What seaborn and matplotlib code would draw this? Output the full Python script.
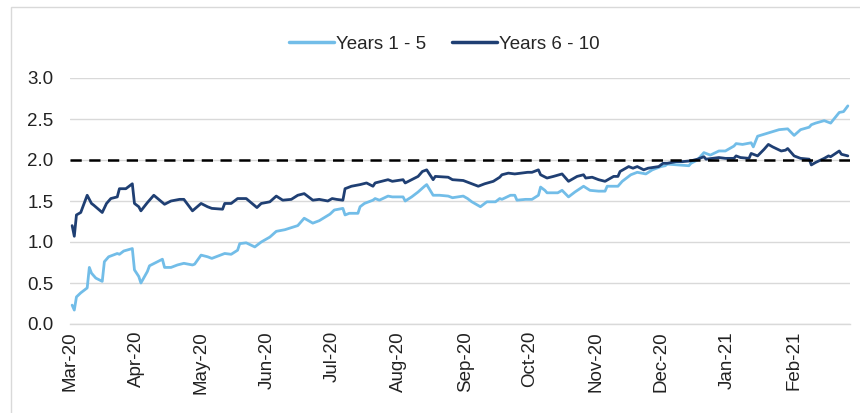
import matplotlib
matplotlib.use("Agg")
import matplotlib.pyplot as plt
import matplotlib.dates as mdates
from matplotlib.patches import Rectangle
import seaborn as sns
import pandas as pd

# ---- data ----
short_dates = ["2020-03-02", "2020-03-03", "2020-03-04", "2020-03-06", "2020-03-09", "2020-03-10",
               "2020-03-11", "2020-03-13", "2020-03-16", "2020-03-17", "2020-03-19", "2020-03-23",
               "2020-03-24", "2020-03-26", "2020-03-30", "2020-03-31", "2020-04-02", "2020-04-03",
               "2020-04-06", "2020-04-07", "2020-04-13", "2020-04-14", "2020-04-17", "2020-04-20",
               "2020-04-23", "2020-04-27", "2020-04-28", "2020-05-01", "2020-05-04", "2020-05-06",
               "2020-05-08", "2020-05-12", "2020-05-15", "2020-05-18", "2020-05-19", "2020-05-22",
               "2020-05-26", "2020-05-29", "2020-06-02", "2020-06-05", "2020-06-09", "2020-06-15",
               "2020-06-18", "2020-06-22", "2020-06-25", "2020-06-30", "2020-07-02", "2020-07-06",
               "2020-07-07", "2020-07-09", "2020-07-13", "2020-07-14", "2020-07-16", "2020-07-20",
               "2020-07-21", "2020-07-23", "2020-07-27", "2020-07-29", "2020-08-03", "2020-08-04",
               "2020-08-07", "2020-08-10", "2020-08-13", "2020-08-14", "2020-08-17", "2020-08-20",
               "2020-08-24", "2020-08-26", "2020-08-31", "2020-09-02", "2020-09-04", "2020-09-08",
               "2020-09-09", "2020-09-11", "2020-09-15", "2020-09-17", "2020-09-18", "2020-09-22",
               "2020-09-24", "2020-09-25", "2020-09-29", "2020-10-02", "2020-10-05", "2020-10-06",
               "2020-10-08", "2020-10-09", "2020-10-14", "2020-10-16", "2020-10-19", "2020-10-22",
               "2020-10-26", "2020-10-29", "2020-11-02", "2020-11-05", "2020-11-06", "2020-11-11",
               "2020-11-13", "2020-11-17", "2020-11-20", "2020-11-24", "2020-11-27", "2020-12-01",
               "2020-12-03", "2020-12-04", "2020-12-09", "2020-12-14", "2020-12-15", "2020-12-18",
               "2020-12-21", "2020-12-24", "2020-12-28", "2020-12-31", "2021-01-04", "2021-01-05",
               "2021-01-08", "2021-01-12", "2021-01-13", "2021-01-15", "2021-01-20", "2021-01-25",
               "2021-01-29", "2021-02-01", "2021-02-04", "2021-02-08", "2021-02-09", "2021-02-11",
               "2021-02-15", "2021-02-17", "2021-02-18", "2021-02-22", "2021-02-24", "2021-02-26"]
years_1_5 = [0.23, 0.17, 0.33, 0.38, 0.44, 0.69,
             0.62, 0.56, 0.52, 0.76, 0.82, 0.86,
             0.85, 0.89, 0.92, 0.66, 0.58, 0.50,
             0.64, 0.71, 0.79, 0.69, 0.69, 0.72,
             0.74, 0.72, 0.73, 0.84, 0.82, 0.80,
             0.82, 0.86, 0.85, 0.90, 0.98, 0.99,
             0.94, 1.00, 1.06, 1.13, 1.15, 1.20,
             1.29, 1.23, 1.26, 1.34, 1.39, 1.41,
             1.33, 1.35, 1.35, 1.43, 1.47, 1.51,
             1.53, 1.51, 1.56, 1.55, 1.55, 1.50,
             1.55, 1.61, 1.68, 1.70, 1.57, 1.57,
             1.56, 1.54, 1.56, 1.53, 1.49, 1.43,
             1.45, 1.49, 1.49, 1.53, 1.52, 1.57,
             1.57, 1.51, 1.52, 1.52, 1.57, 1.67,
             1.63, 1.60, 1.60, 1.63, 1.55, 1.61,
             1.68, 1.63, 1.62, 1.62, 1.68, 1.68,
             1.74, 1.82, 1.85, 1.83, 1.88, 1.92,
             1.93, 1.95, 1.94, 1.93, 1.96, 2.00,
             2.09, 2.06, 2.11, 2.11, 2.17, 2.20,
             2.19, 2.21, 2.16, 2.29, 2.33, 2.37,
             2.38, 2.30, 2.37, 2.40, 2.43, 2.45,
             2.48, 2.46, 2.45, 2.58, 2.59, 2.66]

long_dates = ["2020-03-02", "2020-03-03", "2020-03-04", "2020-03-06", "2020-03-09", "2020-03-11",
              "2020-03-12", "2020-03-16", "2020-03-18", "2020-03-20", "2020-03-23", "2020-03-24",
              "2020-03-27", "2020-03-30", "2020-03-31", "2020-04-02", "2020-04-03", "2020-04-06",
              "2020-04-09", "2020-04-14", "2020-04-17", "2020-04-21", "2020-04-23", "2020-04-27",
              "2020-05-01", "2020-05-04", "2020-05-06", "2020-05-11", "2020-05-12", "2020-05-15",
              "2020-05-18", "2020-05-22", "2020-05-27", "2020-05-29", "2020-06-02", "2020-06-05",
              "2020-06-08", "2020-06-12", "2020-06-15", "2020-06-18", "2020-06-22", "2020-06-25",
              "2020-06-29", "2020-07-01", "2020-07-03", "2020-07-06", "2020-07-07", "2020-07-10",
              "2020-07-14", "2020-07-17", "2020-07-20", "2020-07-21", "2020-07-24", "2020-07-27",
              "2020-07-29", "2020-08-03", "2020-08-04", "2020-08-07", "2020-08-10", "2020-08-12",
              "2020-08-14", "2020-08-17", "2020-08-18", "2020-08-24", "2020-08-26", "2020-08-31",
              "2020-09-03", "2020-09-07", "2020-09-10", "2020-09-14", "2020-09-17", "2020-09-18",
              "2020-09-21", "2020-09-24", "2020-09-30", "2020-10-02", "2020-10-05", "2020-10-06",
              "2020-10-09", "2020-10-12", "2020-10-16", "2020-10-19", "2020-10-23", "2020-10-26",
              "2020-10-27", "2020-10-30", "2020-11-02", "2020-11-05", "2020-11-09", "2020-11-11",
              "2020-11-12", "2020-11-16", "2020-11-18", "2020-11-20", "2020-11-23", "2020-11-25",
              "2020-11-30", "2020-12-02", "2020-12-04", "2020-12-08", "2020-12-11", "2020-12-15",
              "2020-12-18", "2020-12-21", "2020-12-22", "2020-12-28", "2020-12-31", "2021-01-04",
              "2021-01-05", "2021-01-07", "2021-01-11", "2021-01-12", "2021-01-15", "2021-01-18",
              "2021-01-20", "2021-01-22", "2021-01-26", "2021-01-28", "2021-01-29", "2021-02-01",
              "2021-02-04", "2021-02-08", "2021-02-09", "2021-02-11", "2021-02-15", "2021-02-17",
              "2021-02-18", "2021-02-22", "2021-02-23", "2021-02-26"]
years_6_10 = [1.20, 1.07, 1.33, 1.36, 1.57, 1.47,
              1.45, 1.36, 1.47, 1.53, 1.55, 1.65,
              1.65, 1.71, 1.47, 1.43, 1.38, 1.48,
              1.57, 1.46, 1.50, 1.52, 1.52, 1.38,
              1.47, 1.43, 1.41, 1.40, 1.47, 1.47,
              1.53, 1.53, 1.42, 1.47, 1.49, 1.56,
              1.51, 1.52, 1.57, 1.59, 1.51, 1.52,
              1.50, 1.53, 1.52, 1.51, 1.65, 1.68,
              1.70, 1.72, 1.68, 1.72, 1.74, 1.76,
              1.74, 1.76, 1.72, 1.76, 1.80, 1.86,
              1.88, 1.76, 1.80, 1.79, 1.76, 1.75,
              1.72, 1.68, 1.71, 1.74, 1.79, 1.82,
              1.84, 1.83, 1.85, 1.85, 1.88, 1.82,
              1.78, 1.80, 1.83, 1.74, 1.80, 1.82,
              1.78, 1.79, 1.76, 1.74, 1.80, 1.80,
              1.86, 1.92, 1.90, 1.92, 1.88, 1.90,
              1.92, 1.96, 1.96, 1.98, 1.98, 1.99,
              2.01, 2.04, 2.01, 2.03, 2.02, 2.02,
              2.05, 2.03, 2.02, 2.08, 2.05, 2.13,
              2.19, 2.16, 2.11, 2.12, 2.14, 2.05,
              2.02, 2.01, 1.94, 1.97, 2.02, 2.05,
              2.04, 2.11, 2.07, 2.05]

target_level = 2.0
series_names = ["Years 1 - 5", "Years 6 - 10"]
y_ticks = [0.0, 0.5, 1.0, 1.5, 2.0, 2.5, 3.0]

df = pd.concat([
    pd.DataFrame({"date": pd.to_datetime(short_dates), "value": years_1_5, "series": series_names[0]}),
    pd.DataFrame({"date": pd.to_datetime(long_dates), "value": years_6_10, "series": series_names[1]}),
], ignore_index=True)

# ---- style ----
sns.set_theme(style="white")
plt.rcParams["font.family"] = ["Liberation Sans", "DejaVu Sans"]

fig = plt.figure(figsize=(8.6, 4.13), dpi=100)
ax = fig.add_axes([70 / 860, 1 - 324 / 413, 780 / 860, 246 / 413])

palette = {series_names[0]: "#72BDE8", series_names[1]: "#1F3F73"}
sns.lineplot(data=df, x="date", y="value", hue="series", palette=palette,
             linewidth=2.0, ax=ax, legend=True)

ax.axhline(target_level, color="black", linestyle=(0, (4.5, 3)), linewidth=1.8, zorder=3)

ax.set_ylim(0, 3.0)
ax.set_yticks(y_ticks)
ax.set_yticklabels([f"{t:.1f}" for t in y_ticks], fontsize=13.5, color="#222222")
ax.set_xlim(pd.Timestamp("2020-03-01"), pd.Timestamp("2021-02-27"))
ax.xaxis.set_major_locator(mdates.MonthLocator())
ax.xaxis.set_major_formatter(mdates.DateFormatter("%b-%y"))
for lab in ax.get_xticklabels():
    lab.set_rotation(90)
    lab.set_fontsize(13.5)
    lab.set_color("#222222")
ax.tick_params(axis="x", pad=5, length=0)
ax.tick_params(axis="y", pad=12, length=0)
ax.set_xlabel("")
ax.set_ylabel("")

ax.grid(axis="y", color="#D9D9D9", linewidth=1.0)
ax.set_axisbelow(True)
for side in ["top", "right", "left"]:
    ax.spines[side].set_visible(False)
ax.spines["bottom"].set_color("#D9D9D9")
ax.spines["bottom"].set_linewidth(1.0)

leg = ax.legend(loc="upper center", bbox_to_anchor=(0.48, 1.24), ncol=2, frameon=False,
                fontsize=13.5, handlelength=2.4, handletextpad=0.1, columnspacing=1.4)
for line in leg.get_lines():
    line.set_linewidth(2.5)

fig.patches.append(Rectangle((11 / 860, -0.02), 1.0, 1 - 7 / 413 + 0.02, transform=fig.transFigure,
                             fill=False, edgecolor="#D9D9D9", linewidth=1.0))

fig.savefig("out.png", dpi=100, facecolor="white")
